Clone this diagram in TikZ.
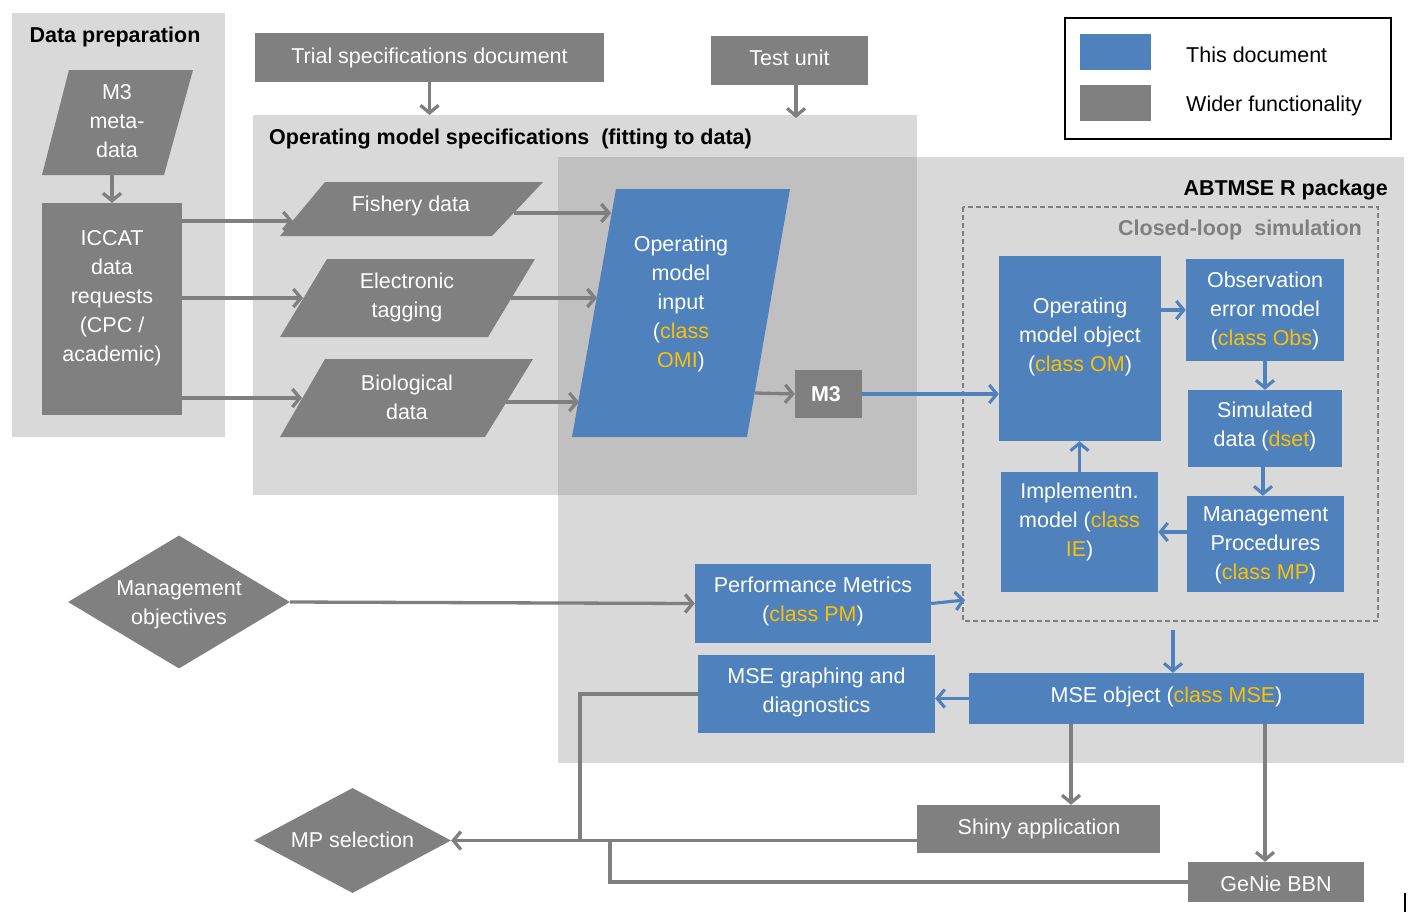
\documentclass[tikz,border=0pt]{standalone}
\usepackage{fontspec}
\setmainfont{Liberation Sans}
\usetikzlibrary{arrows.meta,shapes.geometric,calc}
\definecolor{bl}{HTML}{4F81BD}
\definecolor{gr}{HTML}{808080}
\definecolor{pan}{HTML}{D9D9D9}
\definecolor{ovl}{HTML}{C0C0C0}
\definecolor{org}{HTML}{FFC000}
\definecolor{lgr}{HTML}{7F7F7F}
\newcommand{\cls}[1]{\textcolor{org}{#1}}
\begin{document}
\begin{tikzpicture}[x=1pt,y=-1pt,
  font=\fontsize{21.5}{29}\selectfont,
  gbox/.style={fill=gr,text=white,inner sep=0pt,align=center},
  bbox/.style={fill=bl,text=white,inner sep=0pt,align=center},
  wtxt/.style={text=white,inner sep=0pt,align=center,yshift=-2.5pt},
  tip/.style={-{Straight Barb[length=7.5pt,width=18pt]}},
  garr/.style={draw=lgr,line width=3.3pt,tip},
  barr/.style={draw=bl,line width=3.1pt,tip},
  gline/.style={draw=lgr,line width=3.3pt},
  ttl/.style={font=\fontsize{21.5}{29}\selectfont\bfseries,inner sep=0pt,yshift=-3pt}]
\useasboundingbox (0,0) rectangle (1417,919);
\fill[white] (0,0) rectangle (1417,919);
% panels
\fill[pan] (12,13) rectangle (225,437);
\fill[pan] (253,115) rectangle (917,495);
\fill[pan] (558,157) rectangle (1404,763);
\fill[ovl] (558,157) rectangle (917,495);
\draw[lgr,line width=1.8pt,dash pattern=on 5pt off 3pt] (963,207) rectangle (1378,621);
% titles
\node[ttl] (tdp) at (115,34) {Data preparation};
\node[ttl,anchor=west] (toms) at (269,136) {Operating model specifications\ \ (fitting to data)};
\node[ttl,anchor=east] (tabt) at (1388,187) {ABTMSE R package};
\node[ttl,anchor=east,text=lgr] (tcl) at (1362,227) {Closed-loop\ \ simulation};
% legend
\draw[black,line width=1.3pt] (1065,18) rectangle (1391,139);
\fill[bl] (1080,34) rectangle (1151,70);
\fill[gr] (1080,85) rectangle (1151,121);
\node[anchor=west,inner sep=0pt,yshift=-2pt] (lg1) at (1186,53) {This document};
\node[anchor=west,inner sep=0pt,yshift=-2pt] (lg2) at (1186,104) {Wider functionality};
% parallelograms
\fill[gr] (69,70) -- (193,70) -- (164,175) -- (42,175) -- cycle;
\node[wtxt] (m3meta) at (117,119) {M3\\meta-\\data};
\fill[gr] (325,182) -- (543,182) -- (492,236) -- (280,236) -- cycle;
\node[wtxt] (fish) at (411,203) {Fishery data};
\fill[gr] (327,259) -- (535,259) -- (488,337) -- (280,337) -- cycle;
\node[wtxt] (etag) at (407,295) {Electronic\\tagging};
\fill[gr] (325,359) -- (533,359) -- (485,437) -- (280,437) -- cycle;
\node[wtxt] (bio) at (407,395) {Biological\\data};
\fill[bl] (616,189) -- (790,189) -- (747,437) -- (572,437) -- cycle;
\node[wtxt] (omi) at (681,301) {Operating\\model\\input\\(\cls{class}\\\cls{OMI})};
% boxes
\node[gbox,minimum width=349pt,minimum height=49pt] (trial) at (429.5,57.5) {Trial specifications document};
\node[gbox,minimum width=157pt,minimum height=49pt] (test) at (789.5,60.5) {};
\node[wtxt] (testt) at (789.5,55) {Test unit};
\node[gbox,minimum width=140pt,minimum height=212pt] (iccat) at (112,309) {};
\node[wtxt] (iccatt) at (112,296) {ICCAT\\data\\requests\\(CPC /\\academic)};
\node[gbox,minimum width=67pt,minimum height=48pt] (m3) at (828.5,394) {};
\node[wtxt,font=\fontsize{21.5}{29}\selectfont\bfseries] (m3t) at (826,392) {M3};
\node[bbox,minimum width=162pt,minimum height=185pt] (omobj) at (1080,348.5) {};
\node[wtxt] (omobjt) at (1080,334) {Operating\\model object\\(\cls{class OM})};
\node[bbox,minimum width=158pt,minimum height=102pt] (obs) at (1265,310) {};
\node[wtxt] (obst) at (1265,308.5) {Observation\\error model\\(\cls{class Obs})};
\node[bbox,minimum width=154pt,minimum height=77pt] (sim) at (1265,428.5) {};
\node[wtxt] (simt) at (1265,424) {Simulated\\data (\cls{dset})};
\node[bbox,minimum width=157pt,minimum height=96pt] (mp) at (1265.5,544) {};
\node[wtxt] (mpt) at (1265.5,543) {Management\\Procedures\\(\cls{class MP})};
\node[bbox,minimum width=157pt,minimum height=120pt] (ie) at (1079.5,532) {};
\node[wtxt] (iet) at (1079.5,519) {Implementn.\\model (\cls{class}\\\cls{IE})};
\node[bbox,minimum width=236pt,minimum height=79pt] (pm) at (813,603.5) {};
\node[wtxt] (pmt) at (813,599) {Performance Metrics\\(\cls{class PM})};
\node[bbox,minimum width=237pt,minimum height=78pt] (graph) at (816.5,694) {};
\node[wtxt] (grapht) at (816.5,690) {MSE graphing and\\diagnostics};
\node[bbox,minimum width=395pt,minimum height=51pt] (mse) at (1166.5,698.5) {};
\node[wtxt] (mset) at (1166.5,694) {MSE object (\cls{class MSE})};
\node[gbox,minimum width=243pt,minimum height=48pt] (shiny) at (1038.5,829) {};
\node[wtxt] (shinyt) at (1039,826) {Shiny application};
\node[gbox,minimum width=176pt,minimum height=40pt] (genie) at (1276,882) {};
\node[wtxt] (geniet) at (1276,881) {GeNie BBN};
\node[diamond,fill=gr,inner sep=0pt,minimum width=222pt,minimum height=133pt] (mobj) at (179,602) {};
\node[wtxt] (mobjt) at (179,602) {Management\\objectives};
\node[diamond,fill=gr,inner sep=0pt,minimum width=197pt,minimum height=105pt] (mpsel) at (352.5,840.5) {};
\node[wtxt] (mpselt) at (352.5,837) {MP selection};
% coordinates
\coordinate (m3b) at (112,175);
\coordinate (fishL) at (293,221);
\coordinate (etagL) at (303,298);
\coordinate (bioL) at (302,398);
\coordinate (fishR) at (514,213);
\coordinate (omiA) at (611,213);
\coordinate (etagR) at (511,298);
\coordinate (omiB) at (597,298);
\coordinate (bioR) at (506,402);
\coordinate (omiC) at (579,402);
\coordinate (omiR) at (755,393);
\coordinate (omsT) at (429.5,115);
\coordinate (testB) at (796,85);
\coordinate (omsT2) at (796,118);
\coordinate (clL) at (965,600);
\coordinate (clB) at (1173,630);
\coordinate (xs) at (1071,0);
\coordinate (xg) at (1265,0);
\coordinate (xm) at (1263,0);
\coordinate (j1) at (580,694);
\coordinate (j2) at (580,840.5);
\coordinate (k1) at (610,882);
\coordinate (k2) at (610,840.5);
% connectors
\draw[garr] (m3b) -- (iccat.north);
\draw[garr] (iccat.east |- fishL) -- (fishL);
\draw[garr] (iccat.east |- etagL) -- (etagL);
\draw[garr] (iccat.east |- bioL) -- (bioL);
\draw[garr] (fishR) -- (omiA);
\draw[garr] (etagR) -- (omiB);
\draw[garr] (bioR) -- (omiC);
\draw[garr] (omiR) -- (m3.west);
\draw[garr] (trial.south) -- (omsT);
\draw[garr] (testB) -- (omsT2);
\draw[barr] (m3.east) -- (m3.east -| omobj.west);
\draw[barr] (omobj.east |- obs.west) -- (obs.west);
\draw[barr] (obs.south) -- (sim.north);
\draw[barr] (sim.south -| xm) -- (mp.north -| xm);
\draw[barr] (mp.west |- ie.east) -- (ie.east);
\draw[barr] (ie.north) -- (ie.north |- omobj.south);
\draw[garr] (mobj.east) -- (pm.west);
\draw[barr] (pm.east) -- (clL);
\draw[barr] (clB) -- (clB |- mse.north);
\draw[barr] (mse.west) -- (mse.west -| graph.east);
\draw[garr] (mse.south -| xs) -- (shiny.north -| xs);
\draw[garr] (mse.south -| xg) -- (genie.north -| xg);
\draw[gline] (graph.west) -- (j1) -- (j2);
\draw[gline] (genie.west |- k1) -- (k1) -- (k2);
\draw[garr] (shiny.west |- mpsel.east) -- (mpsel.east);
% stray mark
\draw[black,line width=1.4pt] (1405,893) -- (1405,912);
\end{tikzpicture}
\end{document}
